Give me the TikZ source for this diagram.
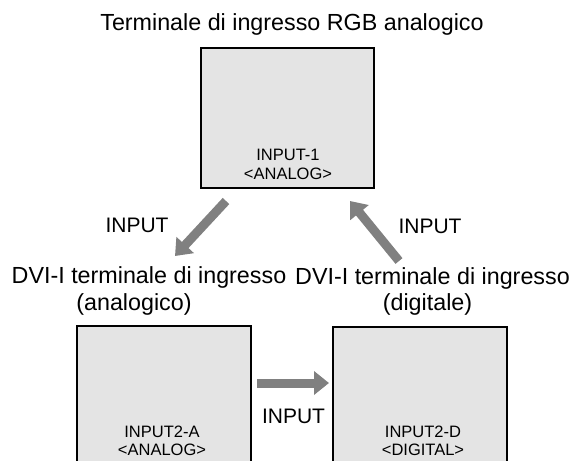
\documentclass[tikz,border=0pt]{standalone}
\usepackage{fontspec}
\setmainfont{Liberation Sans}
\usetikzlibrary{arrows.meta,positioning}
\definecolor{PanelGray}{HTML}{E4E4E4}
\definecolor{ArrowGray}{HTML}{808080}

\begin{document}
\begin{tikzpicture}[x=1pt,y=-1pt,
  panel/.style={draw=black,line width=1.2pt,fill=PanelGray,inner sep=0pt},
  portlbl/.style={font=\fontsize{16.5}{19}\selectfont,anchor=base,inner sep=0pt},
  caption/.style={font=\fontsize{23.3}{20}\selectfont,anchor=base,inner sep=0pt},
  inlbl/.style={font=\fontsize{21}{24}\selectfont,anchor=base,inner sep=0pt},
  fatarrow/.style={draw=ArrowGray,line width=9pt,-{Triangle[length=15pt,width=23pt]}}]
  \useasboundingbox (0,0) rectangle (582,461);
  \clip (0,0) rectangle (582,461);

  % panels
  \node[panel,minimum width=173pt,minimum height=140pt] (rgb) at (287.5,118) {};
  \node[panel,minimum width=174pt,minimum height=154pt] (dvia) at (164,403) {};
  \node[panel,minimum width=174pt,minimum height=154pt] (dvid) at (420,404) {};

  % port names inside the panels
  \node[portlbl] (rgb1) at (288,160) {INPUT-1};
  \node[portlbl] (rgb2) at (288,179) {<ANALOG>};
  \node[portlbl] (dvia1) at (162,437) {INPUT2-A};
  \node[portlbl] (dvia2) at (162,455) {<ANALOG>};
  \node[portlbl] (dvid1) at (423,437) {INPUT2-D};
  \node[portlbl] (dvid2) at (423,455) {<DIGITAL>};

  % captions
  \node[caption] (ttl) at (292,30) {Terminale di ingresso RGB analogico};
  \node[caption] (capa1) at (149,283) {DVI-I terminale di ingresso};
  \node[caption] (capa2) at (134,310) {(analogico)};
  \node[caption] (capd1) at (432.5,284) {DVI-I terminale di ingresso};
  \node[caption] (capd2) at (427.5,310) {(digitale)};

  % INPUT steps
  \coordinate (s1) at (226,201);
  \coordinate (e1) at (175,256);
  \coordinate (s2) at (257,383);
  \coordinate (e2) at (329,383);
  \coordinate (s3) at (399,261);
  \coordinate (e3) at (350,201);
  \draw[fatarrow] (s1) -- (e1);
  \draw[fatarrow] (s2) -- (e2);
  \draw[fatarrow] (s3) -- (e3);
  \node[inlbl] (in1) at (137,232) {INPUT};
  \node[inlbl] (in2) at (293.5,423) {INPUT};
  \node[inlbl] (in3) at (430,233) {INPUT};
\end{tikzpicture}
\end{document}
